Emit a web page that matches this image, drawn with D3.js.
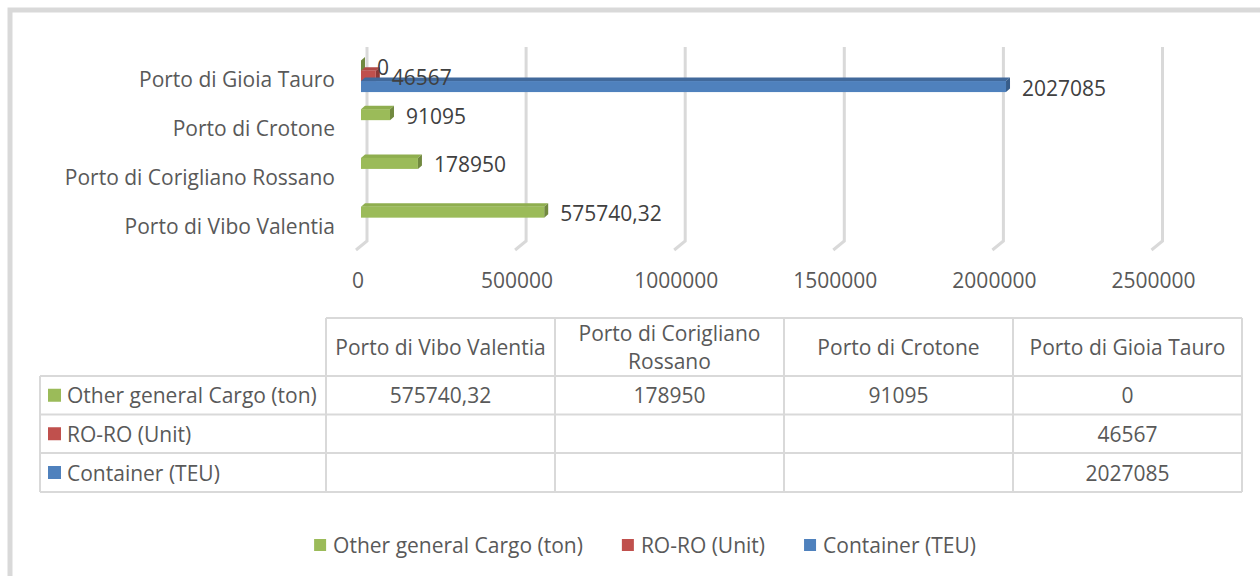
<!DOCTYPE html>
<html>
<head>
<meta charset="utf-8">
<script src="https://cdn.jsdelivr.net/npm/d3@7"></script>
<style>
  html, body { margin: 0; padding: 0; background: #ffffff; }
  svg { display: block; font-family: "Open Sans", "Liberation Sans", sans-serif; }
</style>
</head>
<body>
<svg id="chart" width="1260" height="576"></svg>
<script>
// ---- data ----
const categories = ["Porto di Vibo Valentia", "Porto di Corigliano Rossano", "Porto di Crotone", "Porto di Gioia Tauro"];
const seriesNames = ["Other general Cargo (ton)", "RO-RO (Unit)", "Container (TEU)"];
const otherCargo = [575740.32, 178950, 91095, 0];
const roro = [null, null, null, 46567];
const container = [null, null, null, 2027085];
const xTicks = [0, 500000, 1000000, 1500000, 2000000, 2500000];
const seriesColors = ["#9bbb59", "#c0504d", "#4f81bd"];
const sideColors = ["#71893f", "#8c3836", "#385d8a"];
const topColors = ["#8fae4f", "#b04946", "#41699b"];

const seriesValues = [otherCargo, roro, container];
const fmt = v => String(v).replace(".", ",");

const svg = d3.select("#chart");
const textCol = "#595959";
const gridCol = "#d9d9d9";
const FS = 21;

// outer border
svg.append("rect").attr("x", 10).attr("y", 10).attr("width", 1300).attr("height", 620)
  .attr("fill", "#fff").attr("stroke", gridCol).attr("stroke-width", 5);

// ---- scales ----
const x = d3.scaleLinear().domain([0, 2500000]).range([361, 1156.5]);
const y = d3.scaleBand().domain(categories).range([250, 55]);
const ySub = d3.scaleBand().domain(seriesNames).range([-19, 12]);
const depthX = 6;

// gridlines (3D wall + floor diagonal)
const gridG = svg.append("g");
xTicks.forEach(t => {
  const gx = x(t) + depthX;
  gridG.append("path")
    .attr("d", `M${gx},47 L${gx},241 L${gx - 11},250`)
    .attr("fill", "none").attr("stroke", gridCol).attr("stroke-width", 3)
    .attr("stroke-linejoin", "miter");
});

// x tick labels
svg.append("g").selectAll("text").data(xTicks).join("text")
  .attr("x", d => x(d) - 3).attr("y", 280)
  .attr("text-anchor", "middle").attr("dominant-baseline", "central")
  .attr("font-size", FS).attr("fill", textCol)
  .text(d => d);

// category labels
svg.append("g").selectAll("text").data(categories).join("text")
  .attr("x", 335).attr("y", d => y(d) + y.bandwidth() / 2)
  .attr("text-anchor", "end").attr("dominant-baseline", "central")
  .attr("font-size", FS).attr("fill", textCol)
  .text(d => d);

// bars (3D-style)
const barsG = svg.append("g");
const labelsG = svg.append("g");
const dx = 4, dy = -3.5;
const h = ySub.step() + 0.7;
categories.forEach((cat, ci) => {
  seriesNames.forEach((s, si) => {
    const v = seriesValues[si][ci];
    if (v === null || v === undefined) return;
    const x0 = x(0), x1 = x(v);
    const yt = y(cat) + y.bandwidth() / 2 + ySub(s);
    const g = barsG.append("g");
    // top face
    g.append("path")
      .attr("d", `M${x0},${yt} L${x1},${yt} L${x1 + dx},${yt + dy} L${x0 + dx},${yt + dy} Z`)
      .attr("fill", topColors[si]);
    // right face
    g.append("path")
      .attr("d", `M${x1},${yt} L${x1 + dx},${yt + dy} L${x1 + dx},${yt + dy + h} L${x1},${yt + h} Z`)
      .attr("fill", sideColors[si]);
    // front face
    g.append("rect").attr("x", x0).attr("y", yt).attr("width", Math.max(0, x1 - x0)).attr("height", h)
      .attr("fill", seriesColors[si]);
    labelsG.append("text")
      .attr("x", x1 + 16).attr("y", yt + h / 2 + 1)
      .attr("dominant-baseline", "central")
      .attr("font-size", FS).attr("fill", "#404040")
      .text(fmt(v));
  });
});

// ---- data table ----
const col = d3.scaleBand().domain(categories).range([326, 1242]);
const rowY = [318, 376, 414.5, 453, 492];
const tableG = svg.append("g");
const line = (x1, y1, x2, y2) => tableG.append("line")
  .attr("x1", x1).attr("y1", y1).attr("x2", x2).attr("y2", y2)
  .attr("stroke", gridCol).attr("stroke-width", 2);
// horizontal
line(326, rowY[0], 1242, rowY[0]);
for (let i = 1; i < rowY.length; i++) line(40, rowY[i], 1242, rowY[i]);
// vertical
line(40, rowY[1], 40, rowY[4]);
categories.forEach(c => line(col(c), rowY[0], col(c), rowY[4]));
line(1242, rowY[0], 1242, rowY[4]);

// header texts with wrapping
categories.forEach(c => {
  const cx = col(c) + col.bandwidth() / 2;
  const t = tableG.append("text").attr("x", cx).attr("text-anchor", "middle")
    .attr("font-size", FS).attr("fill", textCol).attr("dominant-baseline", "central");
  t.text(c);
  const maxW = col.bandwidth() - 14;
  if (t.node().getComputedTextLength() > maxW) {
    const words = c.split(" ");
    let l1 = words.slice(), l2 = [];
    while (l1.length > 1) {
      l2.unshift(l1.pop());
      t.text(l1.join(" "));
      if (t.node().getComputedTextLength() <= maxW) break;
    }
    t.text(null);
    const mid = (rowY[0] + rowY[1]) / 2;
    t.append("tspan").attr("x", cx).attr("y", mid - 14).text(l1.join(" "));
    t.append("tspan").attr("x", cx).attr("y", mid + 14).text(l2.join(" "));
  } else {
    t.attr("y", (rowY[0] + rowY[1]) / 2);
  }
});

// rows
seriesNames.forEach((s, si) => {
  const cy = (rowY[si + 1] + rowY[si + 2]) / 2;
  tableG.append("rect").attr("x", 48).attr("y", cy - 6.5).attr("width", 13).attr("height", 13)
    .attr("fill", seriesColors[si]);
  tableG.append("text").attr("x", 67).attr("y", cy).attr("dominant-baseline", "central")
    .attr("font-size", FS).attr("fill", textCol).text(s);
  categories.forEach((c, ci) => {
    const v = seriesValues[si][ci];
    if (v === null || v === undefined) return;
    tableG.append("text").attr("x", col(c) + col.bandwidth() / 2).attr("y", cy)
      .attr("text-anchor", "middle").attr("dominant-baseline", "central")
      .attr("font-size", FS).attr("fill", textCol).text(fmt(v));
  });
});

// ---- legend ----
const legG = svg.append("g");
const items = seriesNames.map((s, i) => {
  const g = legG.append("g");
  g.append("rect").attr("x", 0).attr("y", -6).attr("width", 12).attr("height", 12).attr("fill", seriesColors[i]);
  const t = g.append("text").attr("x", 19).attr("y", 0).attr("dominant-baseline", "central")
    .attr("font-size", FS).attr("fill", textCol).text(s);
  return { g, w: 19 + t.node().getComputedTextLength() };
});
const gap = 39;
const total = d3.sum(items, d => d.w) + gap * (items.length - 1);
let lx = 645 - total / 2;
items.forEach(it => { it.g.attr("transform", `translate(${lx},545)`); lx += it.w + gap; });
</script>
</body>
</html>
